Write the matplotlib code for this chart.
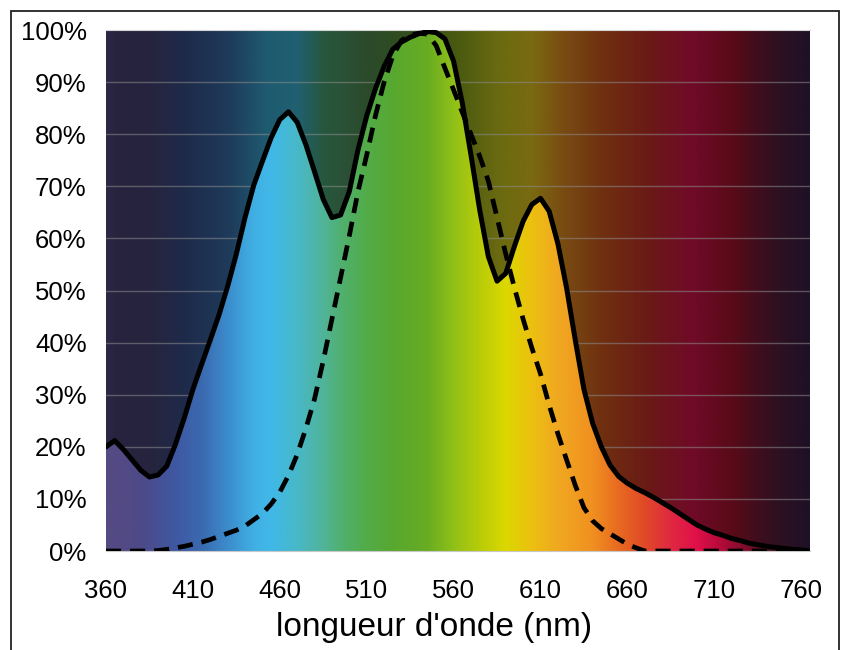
import matplotlib
matplotlib.use('Agg')
import matplotlib.pyplot as plt
import numpy as np
from matplotlib.colors import to_rgb
from matplotlib.patches import Polygon, Rectangle

plt.rcParams['font.family'] = ['Liberation Sans', 'DejaVu Sans']

# ---- data (5 nm steps, 360..765 nm) ----
wavelength = np.arange(360, 770, 5)

# LED emission spectrum (solid curve), % of max
led = [20.0, 21.2, 19.5, 17.5, 15.5, 14.2, 14.6, 16.3, 20.5, 25.5,
       31.0, 35.8, 40.5, 45.3, 50.8, 57.0, 64.0, 70.2, 74.8, 79.3,
       82.8, 84.3, 82.3, 78.0, 72.8, 67.5, 64.0, 64.5, 69.0, 77.0,
       83.5, 88.7, 93.0, 96.3, 97.7, 98.6, 99.3, 99.7, 99.5, 98.3,
       94.0, 86.0, 76.0, 65.5, 56.5, 51.8, 53.3, 58.5, 63.3, 66.5,
       67.7, 65.2, 59.0, 50.5, 40.5, 31.0, 24.5, 20.0, 16.5, 14.3,
       13.0, 12.0, 11.2, 10.3, 9.3, 8.3, 7.2, 6.1, 5.0, 4.2,
       3.5, 3.0, 2.4, 2.0, 1.5, 1.2, 0.9, 0.7, 0.5, 0.3,
       0.2, 0.0]

# eye sensitivity (dashed curve), %
eye = [0.0, 0.0, 0.0, 0.0, 0.0, 0.0, 0.1, 0.3, 0.6, 0.9,
       1.3, 1.7, 2.2, 2.8, 3.4, 4.0, 4.8, 6.0, 7.2, 9.0,
       11.3, 14.5, 18.5, 23.5, 29.2, 36.5, 44.5, 52.5, 60.5, 69.0,
       76.0, 83.5, 90.0, 95.0, 98.0, 99.0, 99.4, 99.2, 97.0, 92.7,
       88.5, 84.2, 80.0, 75.8, 71.0, 64.0, 57.0, 50.5, 44.5, 39.0,
       34.0, 28.0, 22.5, 17.5, 12.6, 8.3, 5.8, 4.3, 3.3, 2.3,
       1.3, 0.6, 0.0, 0.0, 0.0, 0.0, 0.0, 0.0, 0.0, 0.0,
       0.0, 0.0, 0.0, 0.0, 0.0, 0.0, 0.0, 0.0, 0.0, 0.0,
       0.0, 0.0]

y_ticks = np.arange(0, 101, 10)
x_ticks = np.arange(360, 761, 50)
x_label = "longueur d'onde (nm)"

# ---- spectrum colours (bright under the curve, dark above) ----
bright_stops = [(360, '#574a82'), (380, '#4d4a88'), (400, '#3f58a2'), (415, '#3a6ab0'),
                (430, '#3c8ccc'), (445, '#40b0e4'), (455, '#40b8e8'), (470, '#48b8c8'),
                (485, '#50b498'), (495, '#50b070'), (510, '#52ac48'), (525, '#58a830'),
                (545, '#68ac22'), (560, '#90c018'), (575, '#b8cc08'), (590, '#dcd800'),
                (605, '#ecc010'), (620, '#f0a820'), (640, '#f09020'), (655, '#e86a20'),
                (670, '#e04a28'), (685, '#e02840'), (700, '#e0104a'), (715, '#b00a38'),
                (740, '#501020'), (765, '#201028')]
dark_stops = [(360, '#2e2848'), (365, '#28233e'), (385, '#26243e'), (405, '#1e2a4a'),
              (430, '#1e3a5a'), (452, '#1e5a70'), (470, '#206070'), (485, '#26583e'),
              (495, '#2a5238'), (510, '#2a4a2a'), (540, '#344e1a'), (563, '#4a5a10'),
              (586, '#6a6a10'), (605, '#7a6a10'), (620, '#7a5012'), (645, '#703010'),
              (672, '#6a1a16'), (698, '#700a28'), (720, '#5a0a18'), (745, '#301020'),
              (765, '#1e1028')]


def spectrum(stops, wl):
    pos = [s[0] for s in stops]
    rgb = np.array([to_rgb(c) for _, c in stops])
    return np.stack([np.interp(wl, pos, rgb[:, k]) for k in range(3)], axis=-1)


x_min, x_max = 360, 765

fig = plt.figure(figsize=(8.45, 6.5), dpi=100)
ax = fig.add_axes([0.1254, 0.1523, 0.8331, 0.8015])

wl_fine = np.linspace(x_min, x_max, 800)
ax.imshow(spectrum(dark_stops, wl_fine)[None], extent=[x_min, x_max, 0, 100],
          aspect='auto', interpolation='bilinear', zorder=0)

for yv in y_ticks[1:-1]:
    ax.axhline(yv, color='#8c8c8c', alpha=0.55, lw=1, zorder=1)

bright = ax.imshow(spectrum(bright_stops, wl_fine)[None], extent=[x_min, x_max, 0, 100],
                   aspect='auto', interpolation='bilinear', zorder=2)
verts = np.column_stack([wavelength, led])
verts = np.vstack([verts, [[x_max, 0], [x_min, 0]]])
clip = Polygon(verts, closed=True, transform=ax.transData, fc='none', ec='none')
ax.add_patch(clip)
bright.set_clip_path(clip)

ax.plot(wavelength, eye, color='black', lw=3.4, dashes=(3.2, 1.9), zorder=3)
ax.plot(wavelength, led, color='black', lw=3.6, solid_joinstyle='round',
        solid_capstyle='round', zorder=4)

ax.set_xlim(x_min, x_max)
ax.set_ylim(0, 100)
ax.set_xticks(x_ticks)
ax.set_xticklabels([str(v) for v in x_ticks])
ax.set_yticks(y_ticks)
ax.set_yticklabels([f'{v}%' for v in y_ticks])
ax.tick_params(axis='both', length=0, labelsize=18.5)
ax.tick_params(axis='y', pad=14)
ax.tick_params(axis='x', pad=20)

for side in ['left', 'right']:
    ax.spines[side].set_visible(False)
ax.spines['top'].set_color('#d4d4d4')
ax.spines['bottom'].set_color('#c8c8c8')

ax.set_xlabel(x_label, fontsize=24)
ax.xaxis.set_label_coords(0.4666, -0.163)
ax.xaxis.label.set_va('baseline')

frame = Rectangle((11 / 845, -0.05), (839 - 11) / 845, 1 - 11 / 650 + 0.05,
                  transform=fig.transFigure, fill=False, ec='#222222', lw=1.3,
                  clip_on=False)
fig.add_artist(frame)

fig.savefig('out.png', dpi=100, facecolor='white')
